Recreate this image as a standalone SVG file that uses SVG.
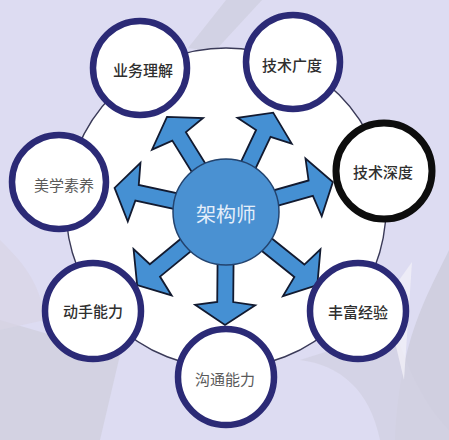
<svg xmlns="http://www.w3.org/2000/svg" width="449" height="440" viewBox="0 0 449 440">
  <style>
    .sat { fill: #ffffff; stroke: #2b2a76; stroke-width: 6.5; }
    .sat.black { stroke: #0d0d0d; stroke-width: 7; }
    .lbl { font-family: "Noto Sans CJK SC", "Noto Sans", sans-serif; font-size: 15px; font-weight: 500; fill: #2f2f2f; text-anchor: middle; }
    .lbl.light { fill: #5a5a5a; font-weight: 400; }
    .arrow { fill: #4590d3; stroke: #121a30; stroke-width: 1.8; stroke-linejoin: miter; }
    .hub { fill: #4a91d2; stroke: #23436e; stroke-width: 1.5; }
    .hubtxt { font-family: "Noto Sans CJK SC", "Noto Sans", sans-serif; font-size: 20px; fill: #e4eefa; text-anchor: middle; }
  </style>
  <g id="background">
    <rect x="0" y="0" width="449" height="440" fill="#dddcf2"/>
    <path d="M226,0 L262,0 L214,52 L188,48 Z" fill="#cfcfe0" opacity="0.8"/>
    <path d="M449,250 C425,300 400,340 395,440 L449,440 Z" fill="#d0cfe0"/>
    <path d="M300,360 C340,365 370,390 380,440 L449,440 L449,430 C420,400 405,360 395,330 Z" fill="#d2d1e2" opacity="0.8"/>
    <path d="M385,300 L412,262 L404,380 Z" fill="#f1f0f8" opacity="0.8"/>
    <path d="M0,320 L120,355 L100,440 L0,440 Z" fill="#d3d2e2"/>
    <path d="M0,240 C20,260 40,280 45,320 L0,330 Z" fill="#d8d4e6" opacity="0.7"/>
  </g>
  <g id="ring">
    <circle cx="226" cy="208" r="160" fill="#ffffff" stroke="#3a3a58" stroke-width="1.4"/>
  </g>
  <g id="connectors">
    <path class="arrow" transform="translate(226 212) rotate(-121.8)" d="M0,-8 H89 L92,-30 L112,0 L92,30 L89,8 H0 Z"/>
    <path class="arrow" transform="translate(226 212) rotate(-64.6)" d="M0,-8 H87 L90,-30 L110,0 L90,30 L87,8 H0 Z"/>
    <path class="arrow" transform="translate(226 212) rotate(-15.7)" d="M0,-8 H88 L91,-30 L111,0 L91,30 L88,8 H0 Z"/>
    <path class="arrow" transform="translate(226 212) rotate(-167.8)" d="M0,-8 H91 L94,-30 L114,0 L94,30 L91,8 H0 Z"/>
    <path class="arrow" transform="translate(226 212) rotate(140.6)" d="M0,-8 H92 L95,-30 L115,0 L95,30 L92,8 H0 Z"/>
    <path class="arrow" transform="translate(226 212) rotate(90.5)" d="M0,-8 H90 L93,-30 L113,0 L93,30 L90,8 H0 Z"/>
    <path class="arrow" transform="translate(226 212) rotate(38.7)" d="M0,-8 H94 L97,-30 L117,0 L97,30 L94,8 H0 Z"/>
  </g>
  <g id="hub">
    <circle class="hub" cx="226" cy="212" r="53"/>
    <text class="hubtxt" x="226" y="222">架构师</text>
  </g>
  <g id="node-business">
    <circle class="sat" cx="140" cy="68" r="47"/>
    <text class="lbl" x="143" y="76">业务理解</text>
  </g>
  <g id="node-breadth">
    <circle class="sat" cx="293" cy="62" r="47"/>
    <text class="lbl" x="292" y="71">技术广度</text>
  </g>
  <g id="node-depth">
    <circle class="sat black" cx="384" cy="171" r="48"/>
    <text class="lbl" x="383" y="178">技术深度</text>
  </g>
  <g id="node-aesthetics">
    <circle class="sat" cx="59" cy="182" r="47"/>
    <text class="lbl light" x="64" y="191">美学素养</text>
  </g>
  <g id="node-handson">
    <circle class="sat" cx="93" cy="311" r="48"/>
    <text class="lbl" x="93" y="317">动手能力</text>
  </g>
  <g id="node-communication">
    <circle class="sat" cx="226" cy="377" r="48"/>
    <text class="lbl light" x="225" y="385">沟通能力</text>
  </g>
  <g id="node-experience">
    <circle class="sat" cx="358" cy="311" r="48"/>
    <text class="lbl" x="358" y="318">丰富经验</text>
  </g>
</svg>
